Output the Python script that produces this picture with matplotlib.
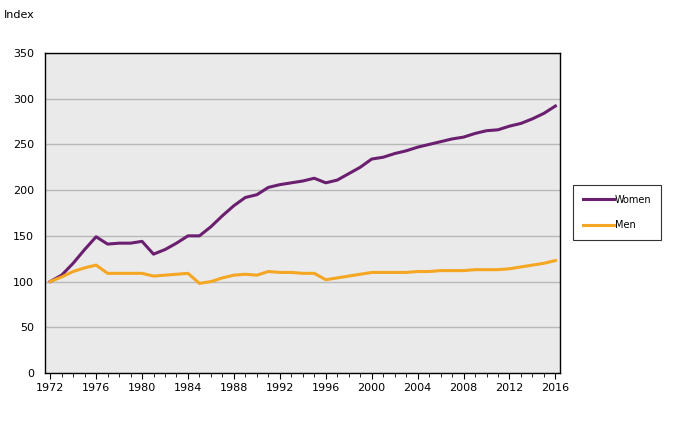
import numpy as np
import matplotlib.pyplot as plt

years = np.arange(1972, 2017)
women = [100, 107, 120, 135, 149, 141, 142, 142, 144, 130, 135, 142, 150, 150, 160, 172, 183, 192, 195,
         203, 206, 208, 210, 213, 208, 211, 218, 225, 234, 236, 240, 243, 247, 250, 253, 256, 258, 262,
         265, 266, 270, 273, 278, 284, 292]
men = [100, 105, 111, 115, 118, 109, 109, 109, 109, 106, 107, 108, 109, 98, 100, 104, 107, 108, 107,
       111, 110, 110, 109, 109, 102, 104, 106, 108, 110, 110, 110, 110, 111, 111, 112, 112, 112, 113,
       113, 113, 114, 116, 118, 120, 123]

fig = plt.figure(figsize=(6.76, 4.29), dpi=100)
ax = fig.add_axes([45 / 676, 1 - 373 / 429, 515 / 676, 320 / 429])
ax.set_facecolor("#eaeaea")
ax.plot(years, women, color="#6b1f6f", lw=2.2, label="Women")
ax.plot(years, men, color="#f5a623", lw=2.2, label="Men")
ax.set_xlim(1971.55, 2016.4)
ax.set_ylim(0, 350)
ax.set_xticks(np.arange(1972, 2017, 4))
ax.set_xticks(years, minor=True)
ax.set_yticks(np.arange(0, 351, 50))
ax.yaxis.grid(True, color="#b8b8b8", lw=1)
ax.set_axisbelow(True)
for s in ax.spines.values():
    s.set_linewidth(1.0)
ax.tick_params(labelsize=8, length=4)
ax.tick_params(axis="y", length=0, pad=8)
ax.tick_params(axis="x", which="minor", length=3)
fig.text(4 / 676, 1 - 18 / 429, "Index", fontsize=8)
leg = fig.legend(loc="upper left", bbox_to_anchor=(568 / 676, 1 - 180 / 429), fontsize=7,
                 frameon=True, fancybox=False, edgecolor="black", borderpad=1.0,
                 labelspacing=1.6, handlelength=3.2, handletextpad=0.1)
leg.get_frame().set_linewidth(0.8)
fig.savefig("out.png", dpi=100)
